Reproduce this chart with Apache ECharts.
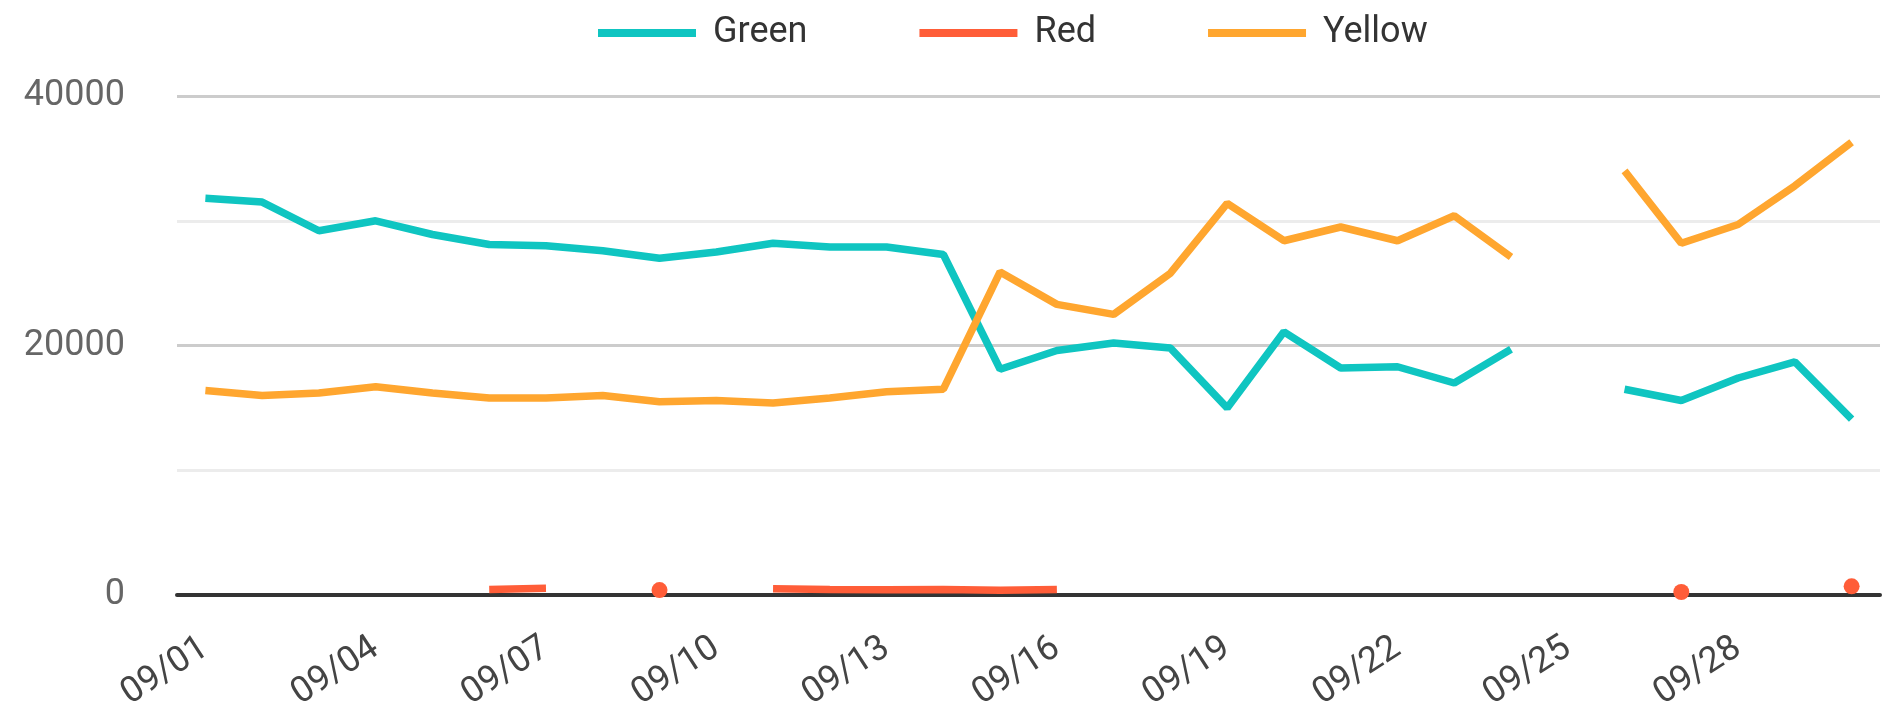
<!DOCTYPE html>
<html>
<head>
<meta charset="utf-8">
<title>Green / Red / Yellow</title>
<script src="https://cdn.jsdelivr.net/npm/echarts@6/dist/echarts.min.js"></script>
<style>
  html, body { margin: 0; padding: 0; background: #fff; }
  #main { width: 1883px; height: 714px; }
</style>
</head>
<body>
<div id="main"></div>
<script>
// 日期
var days = ['09/01', '09/02', '09/03', '09/04', '09/05', '09/06', '09/07', '09/08', '09/09', '09/10',
  '09/11', '09/12', '09/13', '09/14', '09/15', '09/16', '09/17', '09/18', '09/19', '09/20',
  '09/21', '09/22', '09/23', '09/24', '09/25', '09/26', '09/27', '09/28', '09/29', '09/30'];

var greenData = [31800, 31500, 29200, 30000, 28900, 28100, 28000, 27600, 27000, 27500,
  28200, 27900, 27900, 27300, 18100, 19600, 20200, 19800, 15000, 21100,
  18200, 18300, 17000, 19700, null, 16500, 15600, 17400, 18700, 14100];

var redData = [null, null, null, null, null, 450, 550, null, 400, null,
  500, 450, 420, 450, 380, 450, null, null, null, null,
  null, null, null, null, null, null, 250, null, null, 700];

var yellowData = [16400, 16000, 16200, 16700, 16200, 15800, 15800, 16000, 15500, 15600,
  15400, 15800, 16300, 16500, 25900, 23300, 22500, 25800, 31400, 28400,
  29500, 28400, 30400, 27100, null, 34000, 28200, 29700, 32800, 36300];

var yMin = 0;
var yMax = 40000;
var yStep = 20000;

var font = 'Roboto';

// 孤立的点画成圆点，其余不画
function dotsIfAlone(arr) {
  return arr.map(function (v, i) {
    if (v == null) return null;
    var alone = arr[i - 1] == null && arr[i + 1] == null;
    return alone ? { value: v } : { value: v, symbol: 'none' };
  });
}

var chart = echarts.init(document.getElementById('main'));

chart.setOption({
  animation: false,
  legend: {
    left: 593,
    top: 10,
    icon: 'rect',
    itemWidth: 98,
    itemHeight: 8,
    itemGap: 112,
    textStyle: {
      fontFamily: font,
      fontSize: 36,
      color: '#333',
      padding: [0, 0, 0, 12]
    },
    data: ['Green', 'Red', 'Yellow']
  },
  grid: {
    left: 177,
    right: 3,
    top: 96,
    bottom: 118
  },
  xAxis: {
    type: 'category',
    data: days,
    boundaryGap: true,
    axisLine: { lineStyle: { color: '#333', width: 4 } },
    axisTick: { show: false },
    axisLabel: {
      interval: 2,
      rotate: 33,
      margin: 50,
      fontFamily: font,
      fontSize: 36,
      color: '#444'
    }
  },
  yAxis: {
    type: 'value',
    min: yMin,
    max: yMax,
    interval: yStep,
    axisLine: { show: false },
    axisTick: { show: false },
    axisLabel: {
      margin: 52,
      fontFamily: font,
      fontSize: 36,
      color: '#666',
      formatter: function (value) {
        return String(value);
      }
    },
    splitLine: { lineStyle: { color: '#cccccc', width: 3 } },
    minorTick: { show: false, splitNumber: 2 },
    minorSplitLine: { show: true, lineStyle: { color: '#ececec', width: 3 } }
  },
  series: [
    {
      name: 'Green',
      type: 'line',
      data: greenData,
      symbol: 'none',
      lineStyle: { width: 7.5, color: '#0fc5c1' },
      itemStyle: { color: '#0fc5c1' }
    },
    {
      name: 'Red',
      type: 'line',
      data: dotsIfAlone(redData),
      symbol: 'circle',
      symbolSize: 16,
      showSymbol: true,
      lineStyle: { width: 7.5, color: '#ff5d38' },
      itemStyle: { color: '#ff5d38' }
    },
    {
      name: 'Yellow',
      type: 'line',
      data: yellowData,
      symbol: 'none',
      lineStyle: { width: 7.5, color: '#ffa62f' },
      itemStyle: { color: '#ffa62f' }
    }
  ]
});
</script>
</body>
</html>
